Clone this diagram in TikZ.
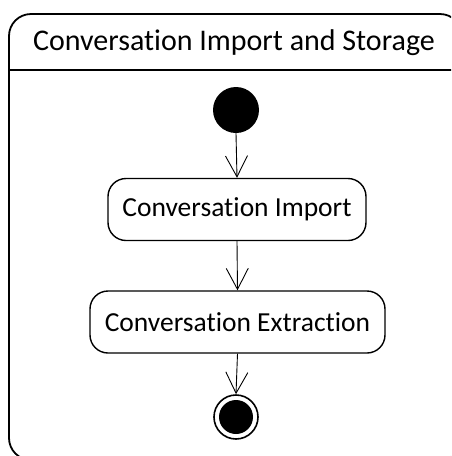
\documentclass[tikz,border=0pt]{standalone}
\usepackage{fontspec}
\setmainfont{Carlito}[Ligatures=NoCommon]
\usetikzlibrary{arrows.meta}
\begin{document}
\begin{tikzpicture}[x=1pt,y=-1pt,
  action/.style={draw,line width=1.4pt,rounded corners=18pt,minimum width=#1,minimum height=62pt,inner sep=0pt,font=\fontsize{27.5}{32}\selectfont},
  flow/.style={line width=0.9pt,-{Straight Barb[length=21pt,width=22pt,line width=0.9pt]}}]
\useasboundingbox (0,0) rectangle (451,456);
\clip (0,0) rectangle (451,456);
\draw[line width=1.8pt,rounded corners=22pt] (9,14) rectangle (462,460);
\draw[line width=1.4pt] (9,70) -- (462,70);
\node[font=\fontsize{30}{35}\selectfont] (title) at (234,43) {Conversation Import and Storage};
\node[circle,fill=black,minimum size=46pt,inner sep=0pt] (start) at (236,110) {};
\node[action=258pt] (imp) at (237,209.5) {Conversation Import};
\node[action=295pt] (ext) at (237.5,322) {Conversation Extraction};
\node[circle,draw,line width=1.6pt,minimum size=44pt,inner sep=0pt] (end) at (236,417) {};
\node[circle,fill=black,minimum size=34pt,inner sep=0pt] (endin) at (end.center) {};
\draw[flow] (start.south) -- (imp.north);
\draw[flow] (imp.south) -- (ext.north);
\draw[flow] (ext.south) -- (end.north);
\end{tikzpicture}
\end{document}
